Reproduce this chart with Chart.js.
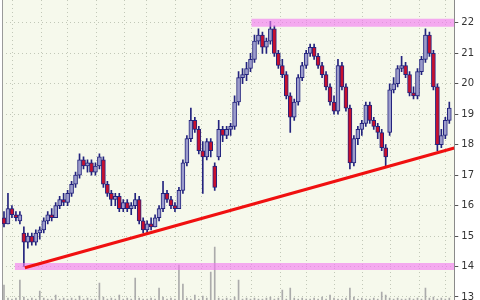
<!DOCTYPE html>
<html>
<head>
<meta charset="utf-8">
<script src="https://cdn.jsdelivr.net/npm/chart.js@4.4.1/dist/chart.umd.min.js"></script>
<style>
  html, body { margin: 0; padding: 0; background: #ffffff; }
  #wrap { width: 480px; height: 300px; }
</style>
</head>
<body>
<div id="wrap"><canvas id="grafico" width="480" height="300"></canvas></div>
<script>
// precios diarios (una vela por sesion)
const apertura = [
  15.6, 15.4, 15.9, 15.7, 15.5, 15.1, 14.8, 15.0, 14.8, 15.1,
  15.2, 15.5, 15.7, 15.6, 16.0, 16.2, 16.1, 16.4, 16.7, 17.0,
  17.5, 17.3, 17.4, 17.1, 17.3, 17.5, 16.7, 16.4, 16.2, 16.3,
  15.9, 16.1, 15.9, 16.0, 16.2, 15.5, 15.2, 15.4, 15.3, 15.6,
  15.9, 16.4, 16.2, 16.0, 15.9, 16.5, 17.4, 18.2, 18.8, 18.5,
  17.8, 17.6, 18.1, 17.3, 17.6, 18.5, 18.3, 18.5, 18.6, 19.4,
  20.2, 20.3, 20.5, 20.8, 21.4, 21.6, 21.2, 21.4, 21.8, 21.0,
  20.6, 20.3, 19.6, 18.9, 19.4, 20.2, 20.6, 21.0, 21.2, 20.9,
  20.6, 20.3, 19.9, 19.4, 19.1, 20.6, 19.9, 19.2, 17.4, 18.2,
  18.5, 18.7, 19.3, 18.8, 18.6, 18.4, 17.9, 18.4, 19.8, 20.0,
  20.5, 20.6, 20.3, 19.7, 19.6, 20.4, 20.8, 21.6, 21.0, 19.9,
  18.0, 18.3, 18.8
];
const maximo = [
  15.8, 16.4, 16.0, 15.8, 15.8, 15.3, 15.1, 15.1, 15.2, 15.3,
  15.6, 15.8, 15.9, 16.1, 16.3, 16.4, 16.5, 16.8, 17.1, 17.7,
  17.6, 17.5, 17.5, 17.4, 17.7, 17.6, 16.8, 16.5, 16.4, 16.4,
  16.2, 16.2, 16.1, 16.4, 16.3, 15.6, 15.5, 15.6, 15.7, 16.0,
  16.8, 16.5, 16.3, 16.1, 16.6, 17.5, 18.3, 19.2, 18.9, 18.6,
  18.1, 18.2, 18.2, 17.4, 18.8, 18.6, 18.6, 18.7, 19.6, 20.4,
  20.5, 20.7, 21.0, 21.6, 21.8, 21.7, 21.5, 22.05, 21.9, 21.1,
  20.8, 20.4, 19.7, 19.5, 20.3, 20.7, 21.1, 21.3, 21.3, 21.0,
  20.7, 20.4, 20.0, 19.6, 20.8, 20.7, 20.0, 19.3, 18.3, 18.6,
  18.8, 19.4, 19.4, 18.9, 18.7, 18.5, 18.0, 20.0, 20.2, 20.6,
  20.9, 20.7, 20.4, 19.9, 20.5, 20.9, 21.8, 21.7, 21.1, 20.0,
  18.5, 18.9, 19.4
];
const minimo = [
  15.3, 15.4, 15.6, 15.5, 15.4, 14.0, 14.6, 14.7, 14.7, 14.9,
  15.1, 15.4, 15.5, 15.6, 15.9, 16.0, 16.0, 16.3, 16.6, 16.9,
  17.2, 17.1, 17.0, 17.0, 17.2, 16.6, 16.3, 16.0, 16.0, 15.8,
  15.8, 15.8, 15.7, 15.9, 15.4, 15.1, 15.1, 15.2, 15.3, 15.5,
  15.8, 16.1, 15.9, 15.8, 15.9, 16.4, 17.3, 18.1, 18.4, 17.7,
  16.4, 17.5, 17.6, 16.5, 17.5, 18.1, 18.2, 18.3, 18.5, 19.3,
  20.0, 20.1, 20.4, 20.7, 21.3, 21.0, 21.0, 21.3, 20.9, 20.5,
  20.2, 19.5, 18.4, 18.8, 19.3, 20.1, 20.5, 20.9, 20.8, 20.5,
  20.2, 19.8, 19.3, 19.0, 19.0, 19.8, 19.1, 17.2, 17.3, 18.0,
  18.3, 18.6, 18.7, 18.5, 18.2, 17.8, 17.3, 18.3, 19.7, 19.9,
  20.4, 20.2, 19.6, 19.5, 19.5, 20.3, 20.7, 20.9, 19.8, 17.8,
  17.9, 18.2, 18.7
];
const cierre = [
  15.4, 15.9, 15.7, 15.6, 15.7, 14.8, 15.0, 14.8, 15.1, 15.2,
  15.5, 15.7, 15.6, 16.0, 16.2, 16.1, 16.4, 16.7, 17.0, 17.5,
  17.3, 17.4, 17.1, 17.3, 17.6, 16.7, 16.4, 16.2, 16.3, 15.9,
  16.1, 15.9, 16.0, 16.2, 15.5, 15.2, 15.4, 15.3, 15.6, 15.9,
  16.4, 16.2, 16.0, 15.9, 16.5, 17.4, 18.2, 18.8, 18.5, 17.8,
  17.6, 18.1, 17.8, 16.6, 18.5, 18.3, 18.5, 18.6, 19.4, 20.2,
  20.3, 20.5, 20.8, 21.4, 21.6, 21.2, 21.4, 21.8, 21.0, 20.6,
  20.3, 19.6, 18.9, 19.4, 20.2, 20.6, 21.0, 21.2, 20.9, 20.6,
  20.3, 19.9, 19.4, 19.1, 20.6, 19.9, 19.2, 17.4, 18.2, 18.5,
  18.7, 19.3, 18.8, 18.6, 18.4, 17.9, 17.6, 19.8, 20.0, 20.5,
  20.6, 20.3, 19.7, 19.6, 20.4, 20.8, 21.6, 21.0, 19.9, 18.0,
  18.3, 18.8, 19.2
];
const volumen = [
  15, 2, 1, 2, 20, 3, 1, 2, 1, 9,
  2, 1, 1, 5, 1, 2, 1, 2, 1, 4,
  1, 2, 1, 1, 17, 3, 1, 2, 1, 5,
  1, 2, 1, 22, 2, 1, 1, 2, 1, 12,
  3, 1, 2, 1, 35, 16, 2, 1, 5, 1,
  4, 2, 28, 53, 2, 1, 2, 1, 3, 20,
  1, 2, 1, 2, 1, 1, 2, 3, 1, 2,
  10, 1, 12, 2, 1, 2, 1, 1, 2, 1,
  3, 1, 5, 2, 1, 1, 2, 12, 3, 1,
  2, 1, 1, 2, 1, 8, 5, 2, 1, 2,
  1, 1, 2, 1, 2, 1, 12, 2, 3, 1,
  2, 1, 2
];
// inicio de cada mes (indice de vela) -> lineas verticales
const inicioMes = [2.25, 9.5, 16, 23.25, 30.25, 35.75, 43.25, 49.75, 57, 62.25, 69.5, 76, 83.25, 90.25, 97.25, 104.5, 111];
const marcasY = [13, 14, 15, 16, 17, 18, 19, 20, 21, 22];
// resistencia, soporte y linea de tendencia
const resistencia = { desde: 62.25, hasta: 113.25, nivel: 22 };
const soporte = { desde: 2.75, hasta: 113.25, nivel: 14 };
const tendencia = [{ x: 5.25, y: 13.96 }, { x: 113.25, y: 17.89 }];

const velas = cierre.map((c, i) => ({ x: i, y: [apertura[i], c] }));
const mechas = cierre.map((c, i) => ({ x: i, y: [minimo[i], maximo[i]] }));
const barrasVol = volumen.map((v, i) => ({ x: i, y: v }));

const fondo = {
  id: 'fondo',
  beforeDraw(chart) {
    const { ctx, chartArea } = chart;
    ctx.save();
    ctx.fillStyle = '#F6F9EC';
    ctx.fillRect(chartArea.left, chartArea.top, chartArea.right - chartArea.left, chartArea.bottom - chartArea.top);
    ctx.restore();
  }
};

const rosa = 'rgba(242, 120, 240, 0.62)';
const punteado = '#C2C8B8';

new Chart(document.getElementById('grafico').getContext('2d'), {
  type: 'bar',
  data: {
    datasets: [
      {
        type: 'line', data: tendencia, borderColor: '#F01010', borderWidth: 3,
        pointRadius: 0, order: -2, yAxisID: 'y'
      },
      {
        type: 'line', data: [{ x: resistencia.desde, y: resistencia.nivel }, { x: resistencia.hasta, y: resistencia.nivel }],
        borderColor: rosa, borderWidth: 8, pointRadius: 0, order: -1, yAxisID: 'y'
      },
      {
        type: 'line', data: [{ x: soporte.desde, y: soporte.nivel }, { x: soporte.hasta, y: soporte.nivel }],
        borderColor: rosa, borderWidth: 7, pointRadius: 0, order: -1, yAxisID: 'y'
      },
      {
        data: velas, yAxisID: 'y', grouped: false, order: 0,
        barThickness: 4, borderWidth: 1, borderSkipped: false,
        borderColor: '#23237E',
        backgroundColor: ctx => {
          const i = ctx.dataIndex;
          return cierre[i] < apertura[i] ? '#C8102E' : '#9C9CCB';
        }
      },
      {
        data: mechas, yAxisID: 'y', grouped: false, order: 1,
        barThickness: 1, borderWidth: 0, backgroundColor: '#23237E'
      },
      {
        data: barrasVol, yAxisID: 'vol', grouped: false, order: 2,
        barThickness: 1, borderWidth: 0, backgroundColor: '#ABABAB'
      }
    ]
  },
  options: {
    responsive: false,
    animation: false,
    layout: { padding: { left: 2, right: 3, top: 0, bottom: 0 } },
    plugins: { legend: { display: false }, tooltip: { enabled: false } },
    scales: {
      x: {
        type: 'linear', min: -0.5, max: 113.25, offset: false,
        afterBuildTicks: s => { s.ticks = inicioMes.map(v => ({ value: v })); },
        ticks: { display: false },
        grid: { offset: false, color: punteado, drawTicks: false },
        border: { display: false, dash: [1, 3] }
      },
      y: {
        position: 'right', min: 12.9, max: 22.75,
        afterBuildTicks: s => { s.ticks = marcasY.map(v => ({ value: v })); },
        afterFit: s => { s.paddingTop = 0; s.paddingBottom = 0; },
        ticks: { color: '#333333', font: { family: 'DejaVu Sans', size: 10 }, padding: 3 },
        grid: { color: punteado, tickLength: 4, tickColor: '#555555', tickBorderDash: [] },
        border: { display: true, color: '#8A8A8A', width: 1, dash: [1, 3] }
      },
      vol: {
        position: 'left', min: 0, max: 300,
        afterFit: s => { s.width = 0; },
        ticks: { display: false },
        grid: { display: false },
        border: { display: true, color: '#9A9A9A', width: 1 }
      }
    }
  },
  plugins: [fondo]
});
</script>
</body>
</html>
